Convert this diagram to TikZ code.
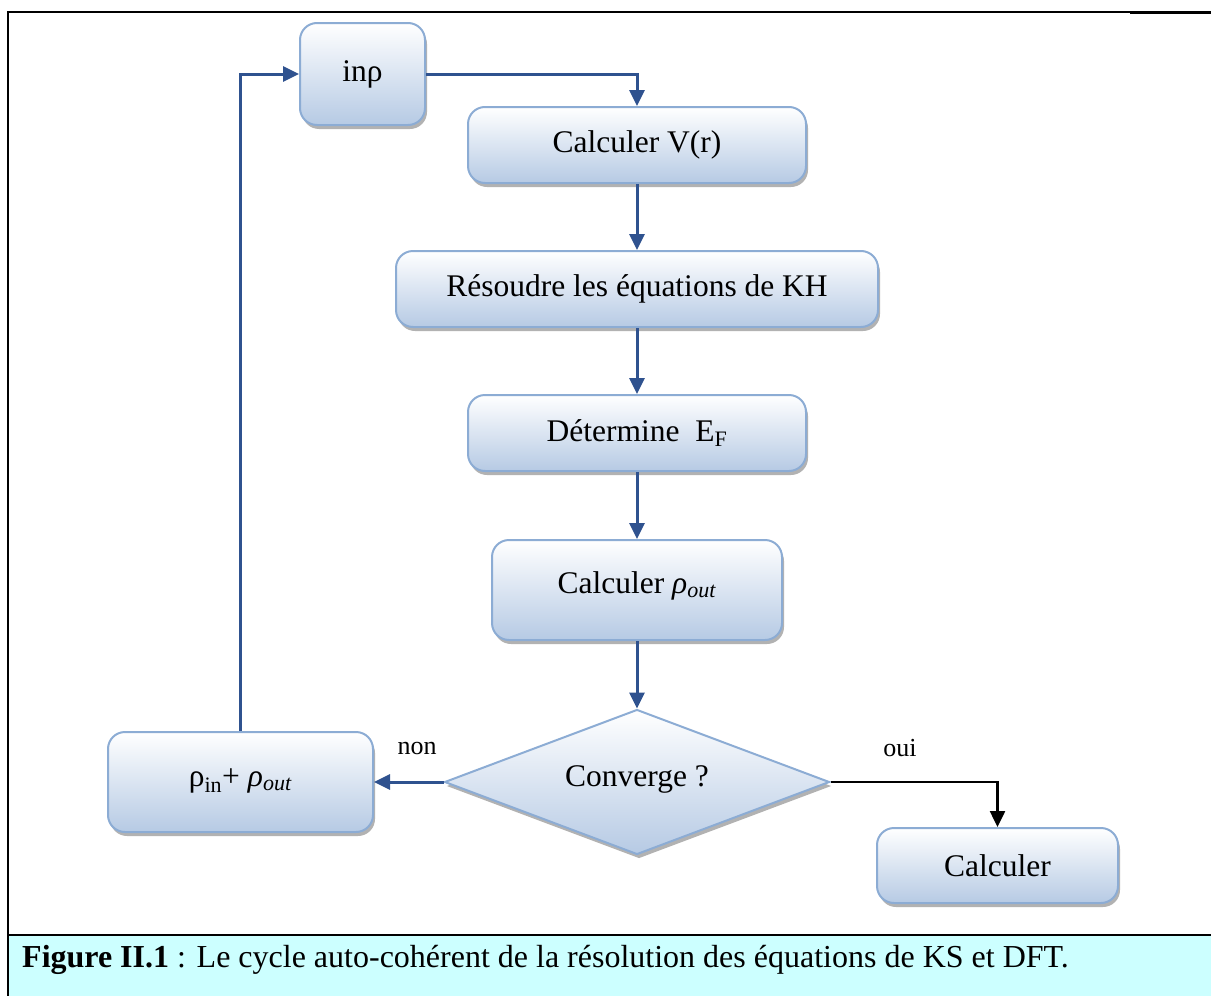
\documentclass[tikz,border=0pt]{standalone}
\usepackage{fontspec}
\setmainfont{Liberation Serif}
\usetikzlibrary{arrows.meta,shapes.geometric,shadows}
\definecolor{lineblue}{RGB}{47,82,143}
\definecolor{boxedge}{RGB}{140,172,212}
\definecolor{boxbot}{RGB}{182,202,228}
\definecolor{capcyan}{RGB}{204,255,255}
\tikzset{
  box/.style={draw=boxedge, line width=2pt, rounded corners=17pt, top color=white, bottom color=boxbot,
    drop shadow={shadow xshift=2pt, shadow yshift=-4pt, fill=black!60, opacity=0.5},
    inner sep=0pt, font=\fontsize{31.5}{36}\selectfont},
  decision/.style={diamond, draw=boxedge, line width=2pt, top color=white, bottom color=boxbot,
    drop shadow={shadow xshift=2pt, shadow yshift=-4pt, fill=black!60, opacity=0.5},
    inner sep=0pt, minimum width=385pt, minimum height=145pt, aspect=2.65, font=\fontsize{31.5}{36}\selectfont},
  flow/.style={draw=lineblue, line width=3pt, -{Triangle[length=16pt,width=15pt]}},
  yesflow/.style={draw=black, line width=2.5pt, -{Triangle[length=16pt,width=15pt]}},
  lab/.style={font=\fontsize{26}{30}\selectfont, inner sep=0pt},
}
\begin{document}
\begin{tikzpicture}[x=1pt,y=-1pt]
\useasboundingbox (0,0) rectangle (1211,996);
% frame
\fill[capcyan] (8,935) rectangle (1211,996);
\draw[line width=2.5pt] (8,996) -- (8,12) -- (98,12);
\draw[line width=1.2pt] (98,12) -- (1130,12);
\draw[line width=2.5pt] (1130,12.6) -- (1211,12.6);
\draw[line width=2pt] (8,935) -- (1211,935);
% boxes
\node[box, minimum width=125pt, minimum height=102pt] (inrho) at (362.5,74) {inρ};
\node[box, minimum width=338pt, minimum height=76pt] (calcV) at (637,145) {Calculer V(r)};
\node[box, minimum width=482pt, minimum height=76pt] (resoudre) at (637,289) {Résoudre les équations de KH};
\node[box, minimum width=338pt, minimum height=76pt] (determ) at (637,433) {Détermine\ \ E\textsubscript{F}};
\node[box, minimum width=290pt, minimum height=100pt] (rhoout) at (637,590) {\raisebox{15pt}{Calculer \textit{ρ}\textsubscript{\textit{out}}}};
\node[decision] (conv) at (637,782) {\raisebox{12pt}{Converge ?}};
\node[box, minimum width=265pt, minimum height=100pt] (mix) at (240.5,782) {\raisebox{9pt}{ρ\textsubscript{in}+ \textit{ρ}\textsubscript{\textit{out}}}};
\node[box, minimum width=241pt, minimum height=75pt] (calc) at (997.5,865.5) {Calculer};
% connectors
\draw[flow] (inrho.east) -| (calcV.north);
\draw[flow] (calcV.south) -- (resoudre.north);
\draw[flow] (resoudre.south) -- (determ.north);
\draw[flow] (determ.south) -- (rhoout.north);
\draw[flow] (rhoout.south) -- (conv.north);
\draw[flow] (conv.west) -- (mix.east);
\draw[yesflow] (conv.east) -| (calc.north);
\draw[flow] (mix.north) |- (inrho.west);
\node[lab] (non) at (417,748) {non};
\node[lab] (oui) at (900,748) {oui};
% caption
\node[anchor=base west, inner sep=0pt, font=\fontsize{32}{38}\selectfont] (cap) at (22,967)
  {\textbf{Figure II.1} : Le cycle auto-cohérent de la résolution des équations de KS et DFT.};
\end{tikzpicture}
\end{document}
